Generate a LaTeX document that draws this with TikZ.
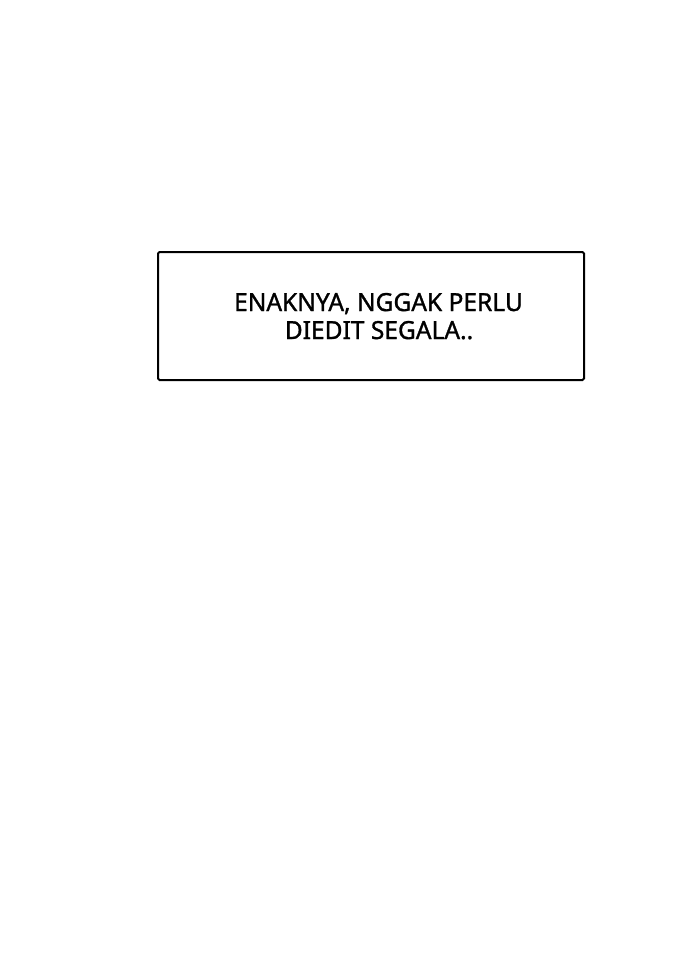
\documentclass[tikz,border=0pt]{standalone}
\usepackage{fontspec}
\newfontfamily\captfont{Noto Sans}[FakeBold=1.2]
\begin{document}
\begin{tikzpicture}[x=1bp,y=-1bp,
  boxstyle/.style={draw=black,line width=2bp,rounded corners=1.5bp},
  txt/.style={font=\captfont\fontsize{25}{28}\selectfont,inner sep=0pt,text=black,anchor=base,xscale=0.985}]
\useasboundingbox[fill=white] (0,0) rectangle (700,975);
\draw[boxstyle] (158,252) rectangle (584,380);
\node[txt] (l1) at (378.5,311) {ENAKNYA, NGGAK PERLU};
\node[txt] (l2) at (379,339) {DIEDIT SEGALA..};
\end{tikzpicture}
\end{document}
